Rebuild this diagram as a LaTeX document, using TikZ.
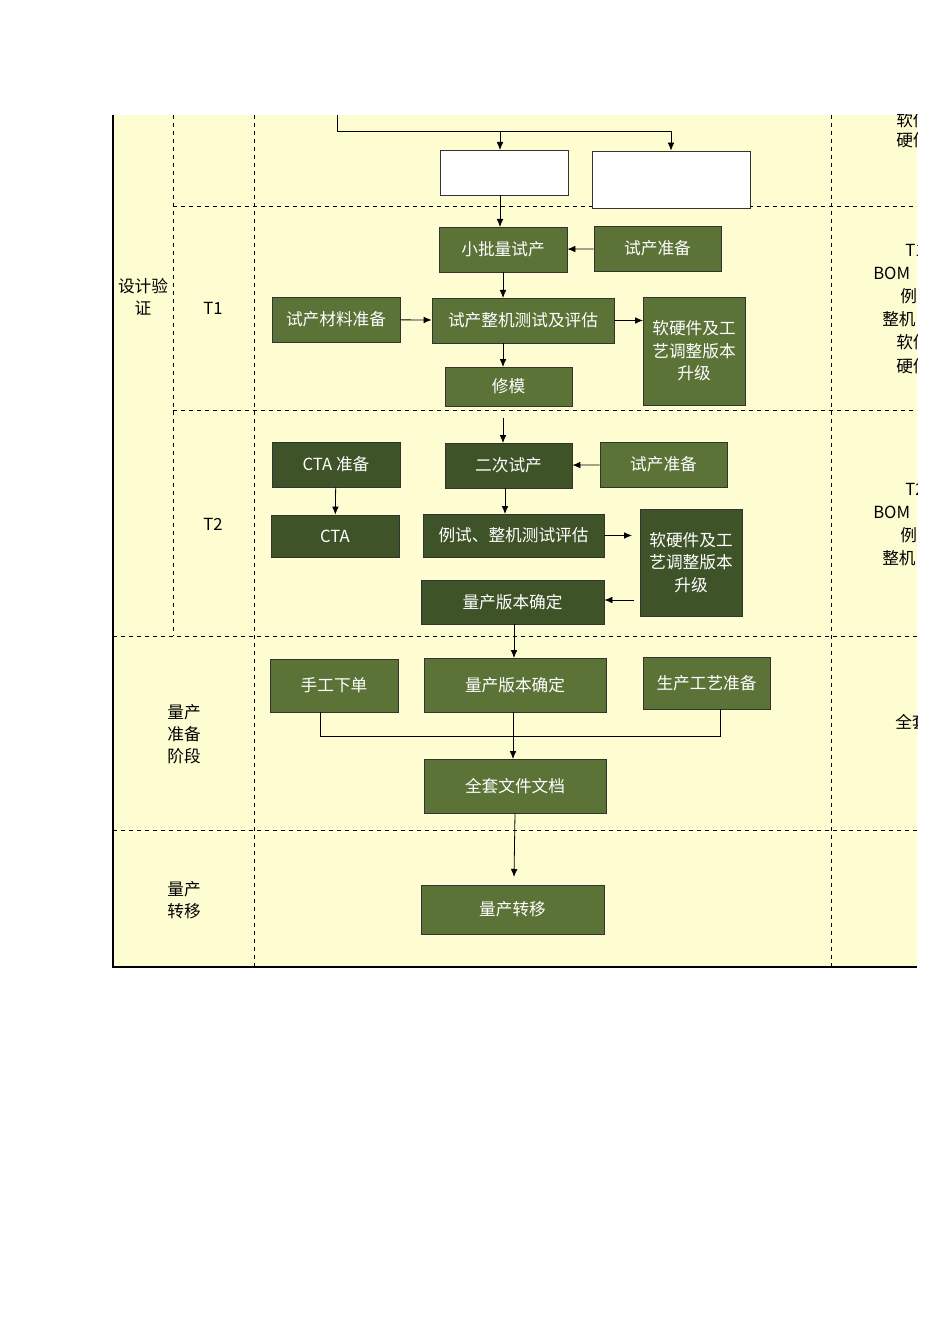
\documentclass[tikz,border=0pt]{standalone}
\usepackage{fontspec}
\setmainfont{Noto Sans CJK SC}
\usetikzlibrary{arrows.meta}
\definecolor{bgy}{HTML}{FEFDD2}
\definecolor{gl}{HTML}{5C7338}
\definecolor{gd}{HTML}{3F5329}
\begin{document}
\begin{tikzpicture}[x=0.75pt,y=-0.75pt,
 sz/.style 2 args={minimum width={#1*0.75pt},minimum height={#2*0.75pt}},
 box/.style={draw=black!80,line width=0.6pt,fill=gl,text=white,font=\fontsize{12.5}{17}\selectfont,align=center,inner sep=0pt},
 dbox/.style={box,fill=gd},
 wbox/.style={draw=black!80,line width=0.6pt,fill=white},
 lab/.style={font=\fontsize{12.5}{16.5}\selectfont,align=center},
 rlab/.style={font=\fontsize{12.5}{15}\selectfont,anchor=west,inner sep=0pt},
 dsh/.style={dashed,line width=0.6pt},
 arr/.style={-{Latex[length=6pt,width=5pt]},line width=0.6pt}]
\useasboundingbox (0,0) rectangle (950,1344);
\fill[bgy] (113,115) rectangle (917,967);
\draw[line width=0.8pt] (113,115) -- (113,967) -- (917,967);
\draw[dsh] (173,115) -- (173,636);
\draw[dsh] (254,115) -- (254,967);
\draw[dsh] (831,115) -- (831,967);
\draw[dsh] (173,206) -- (917,206);
\draw[dsh] (173,410) -- (917,410);
\draw[dsh] (113,636) -- (917,636);
\draw[dsh] (113,830) -- (917,830);
\node[lab] (sj) at (143,297) {设计验\\证};
\node[lab] (t1) at (213,308) {T1};
\node[lab] (t2) at (213,524) {T2};
\node[lab] (lz) at (184,734) {量产\\准备\\阶段};
\node[lab] (lt) at (184,900) {量产\\转移};
\begin{scope}
\clip (831,115) rectangle (917,967);
\node[rlab] at (896,120) {软件};
\node[rlab] at (896,140) {硬件};
\node[rlab] at (905,250) {T1};
\node[rlab] at (873,273) {BOM};
\node[rlab] at (900,296) {例};
\node[rlab] at (882,319) {整机};
\node[rlab] at (896,342) {软件};
\node[rlab] at (896,366) {硬件};
\node[rlab] at (905,489) {T2};
\node[rlab] at (873,512) {BOM};
\node[rlab] at (900,535) {例};
\node[rlab] at (882,558) {整机};
\node[rlab] at (895,722) {全套};
\end{scope}
% top white boxes
\node[wbox,sz={128}{45}] (w1) at (504,172.5) {};
\node[wbox,sz={158}{57}] (w2) at (671,179.5) {};
\coordinate (ts) at (337,115);
\coordinate (tc) at (337,131);
\draw[line width=0.6pt] (ts) -- (tc) -- (671,131);
\draw[arr] (500,131) -- (500,150);
\draw[arr] (671,131) -- (w2.north);
% T1
\node[box,sz={128}{45}] (xp) at (503,249.5) {小批量试产};
\node[box,sz={127}{45}] (zb1) at (657.5,248.5) {试产准备};
\node[box,sz={128}{45}] (cl) at (336,319.5) {试产材料准备};
\node[box,sz={182}{45}] (zj) at (523,320.5) {试产整机测试及评估};
\node[box,sz={102}{108},text width={95*0.75pt}] (rj1) at (694,351) {软硬件及工\\艺调整版本\\升级};
\node[box,sz={127}{39}] (xm) at (508.5,386.5) {修模};
\draw[arr] (500,195) -- (500,227);
\draw[arr] (zb1) -- (xp);
\draw[arr] (503,272) -- (503,298);
\draw[arr] (cl) -- (zj);
\draw[arr] (zj.east) -- (643,320.5);
\draw[arr] (503,343) -- (503,367);
% T2
\node[dbox,sz={128}{45}] (ctaz) at (336,464.5) {CTA 准备};
\node[dbox,sz={128}{42}] (cta) at (335,536) {CTA};
\node[dbox,sz={127}{45}] (ec) at (508.5,465.5) {二次试产};
\node[box,sz={127}{45}] (zb2) at (663.5,464.5) {试产准备};
\node[dbox,sz={181}{43}] (ls) at (513.5,535.5) {例试、整机测试评估};
\node[dbox,sz={102}{107},text width={95*0.75pt}] (rj2) at (691,562.5) {软硬件及工\\艺调整版本\\升级};
\node[dbox,sz={183}{44}] (lb1) at (512.5,602) {量产版本确定};
\draw[arr] (503,418) -- (503,443);
\draw[arr] (ctaz) -- (cta);
\draw[arr] (zb2) -- (ec);
\draw[arr] (505,488) -- (505,514);
\draw[arr] (ls.east) -- (632,535.5);
\draw[arr] (634,600) -- (lb1.east |- 0,600);
% stage 3
\node[box,sz={128}{53}] (sg) at (334,685.5) {手工下单};
\node[box,sz={182}{54}] (lb2) at (515,685) {量产版本确定};
\node[box,sz={127}{52}] (gy) at (706.5,683) {生产工艺准备};
\node[box,sz={182}{54}] (qt) at (515,786) {全套文件文档};
\node[box,sz={183}{49}] (zy) at (512.5,909.5) {量产转移};
\draw[arr] (514,624) -- (514,658);
\draw[line width=0.6pt] (320,712) -- (320,736) -- (720,736) -- (720,709);
\draw[arr] (513,712) -- (513,759);
\draw[arr] (qt.south) -- (514,877);
\end{tikzpicture}
\end{document}
